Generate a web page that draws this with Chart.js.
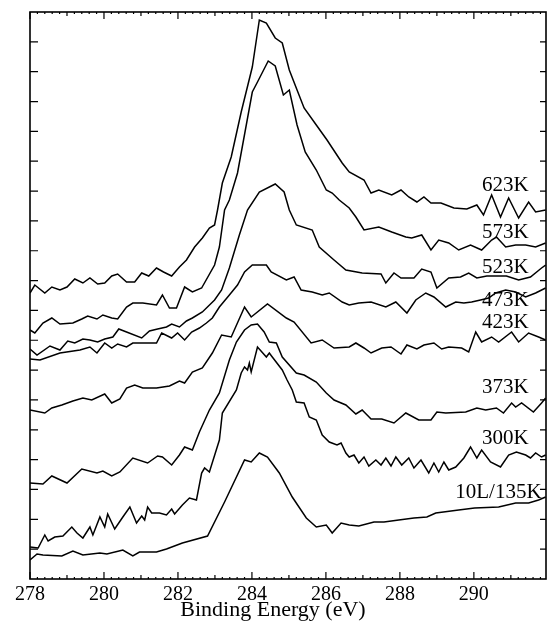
<!DOCTYPE html>
<html>
<head>
<meta charset="utf-8">
<script src="https://cdn.jsdelivr.net/npm/chart.js@4.4.1/dist/chart.umd.min.js"></script>
<style>
  html, body { margin: 0; padding: 0; background: #fff; }
</style>
</head>
<body>
<canvas id="xpsChart" width="550" height="627"></canvas>
<script>
// C 1s spectra, intensity in arbitrary units (curves are offset)
var e623 = [278.00, 278.13, 278.40, 278.59, 278.81, 279.00, 279.21, 279.43, 279.62, 279.83, 280.02, 280.21, 280.37, 280.61, 280.83, 281.02, 281.21, 281.42, 281.61, 281.83, 282.04, 282.23, 282.45, 282.66, 282.85, 282.99, 283.07, 283.20, 283.44, 283.71, 284.01, 284.20, 284.39, 284.63, 284.82, 285.01, 285.22, 285.41, 285.74, 286.03, 286.44, 286.63, 287.03, 287.22, 287.43, 287.78, 288.03, 288.24, 288.46, 288.65, 288.84, 289.11, 289.46, 289.81, 290.08, 290.26, 290.48, 290.72, 290.94, 291.21, 291.48, 291.67, 291.94];
var i623 = [286, 294, 286, 292, 289, 292, 300, 296, 301, 295, 296, 303, 305, 297, 297, 306, 303, 311, 307, 303, 312, 319, 332, 341, 351, 354, 369, 396, 422, 467, 512, 559, 556, 541, 536, 509, 489, 471, 454, 439, 416, 407, 399, 386, 389, 384, 389, 382, 377, 382, 376, 376, 371, 370, 374, 364, 384, 362, 381, 361, 377, 367, 369];

var e573 = [278.00, 278.13, 278.35, 278.59, 278.81, 279.16, 279.40, 279.56, 279.81, 279.97, 280.21, 280.37, 280.61, 280.78, 281.05, 281.42, 281.58, 281.77, 281.96, 282.18, 282.39, 282.64, 282.99, 283.12, 283.26, 283.39, 283.61, 284.01, 284.15, 284.44, 284.63, 284.85, 285.01, 285.22, 285.44, 285.74, 286.01, 286.17, 286.36, 286.63, 286.81, 287.03, 287.43, 287.78, 288.16, 288.32, 288.59, 288.84, 289.05, 289.32, 289.59, 289.91, 290.21, 290.48, 290.61, 290.86, 291.13, 291.40, 291.67, 291.94];
var i573 = [249, 246, 256, 261, 255, 256, 260, 263, 260, 264, 261, 260, 272, 276, 276, 274, 284, 271, 271, 292, 287, 291, 314, 332, 369, 379, 406, 487, 497, 518, 513, 484, 489, 454, 427, 409, 389, 386, 379, 371, 362, 349, 352, 347, 342, 341, 344, 329, 339, 336, 329, 334, 329, 339, 342, 332, 334, 334, 332, 336];

var e523 = [278.00, 278.19, 278.54, 278.81, 279.02, 279.21, 279.43, 279.62, 279.83, 280.02, 280.24, 280.40, 280.61, 281.02, 281.23, 281.45, 281.69, 281.83, 282.04, 282.23, 282.39, 282.66, 282.99, 283.18, 283.39, 283.66, 283.88, 284.20, 284.63, 284.87, 285.01, 285.20, 285.63, 285.82, 286.22, 286.54, 286.98, 287.49, 287.62, 287.84, 288.03, 288.38, 288.59, 288.84, 289.00, 289.32, 289.64, 289.86, 290.08, 290.35, 290.61, 290.88, 291.21, 291.53, 291.83, 291.94];
var i523 = [230, 224, 233, 229, 238, 236, 240, 239, 237, 240, 242, 250, 247, 241, 248, 250, 252, 255, 252, 258, 261, 267, 279, 289, 311, 344, 369, 387, 395, 387, 369, 354, 349, 332, 319, 309, 306, 305, 296, 306, 301, 301, 310, 307, 291, 301, 302, 306, 301, 303, 303, 303, 299, 302, 311, 314];

var e473 = [278.00, 278.27, 278.81, 279.35, 279.62, 279.81, 280.02, 280.21, 280.37, 280.61, 280.78, 281.05, 281.42, 281.56, 281.83, 281.99, 282.18, 282.37, 282.58, 282.77, 282.93, 283.12, 283.39, 283.61, 283.80, 284.01, 284.39, 284.52, 284.93, 285.14, 285.33, 285.63, 285.90, 286.09, 286.44, 286.63, 286.89, 287.22, 287.62, 287.89, 288.19, 288.43, 288.70, 288.92, 289.24, 289.51, 289.73, 289.94, 290.18, 290.40, 290.59, 290.86, 291.13, 291.40, 291.67, 291.94];
var i473 = [220, 219, 226, 229, 232, 226, 236, 231, 235, 232, 236, 236, 236, 246, 241, 246, 239, 247, 251, 256, 261, 272, 284, 294, 307, 314, 314, 307, 299, 302, 289, 287, 284, 286, 277, 274, 276, 277, 272, 277, 266, 279, 286, 282, 272, 277, 276, 277, 279, 281, 286, 289, 287, 282, 286, 291];

var e423 = [278.00, 278.40, 278.59, 278.86, 279.16, 279.43, 279.67, 280.02, 280.21, 280.43, 280.61, 280.83, 281.05, 281.42, 281.77, 282.04, 282.18, 282.39, 282.66, 282.93, 283.18, 283.44, 283.80, 283.98, 284.42, 284.93, 285.14, 285.60, 285.90, 286.22, 286.63, 286.81, 287.03, 287.22, 287.51, 287.76, 288.03, 288.19, 288.46, 288.65, 288.92, 289.13, 289.32, 289.67, 289.86, 290.05, 290.21, 290.48, 290.67, 291.02, 291.21, 291.48, 291.75, 291.94];
var i423 = [169, 166, 171, 174, 178, 181, 179, 185, 176, 180, 191, 194, 191, 191, 193, 198, 196, 207, 211, 226, 244, 242, 272, 262, 275, 261, 257, 236, 239, 231, 232, 236, 231, 226, 231, 232, 225, 234, 230, 234, 236, 230, 232, 231, 227, 247, 237, 242, 237, 247, 237, 246, 242, 239];

var e373 = [278.00, 278.35, 278.59, 279.00, 279.40, 279.81, 279.97, 280.21, 280.43, 280.78, 281.18, 281.45, 281.58, 281.83, 282.04, 282.18, 282.39, 282.58, 282.85, 283.12, 283.39, 283.58, 283.80, 283.98, 284.15, 284.33, 284.47, 284.66, 284.82, 285.20, 285.41, 285.74, 286.01, 286.22, 286.54, 286.81, 286.98, 287.22, 287.51, 287.84, 288.16, 288.51, 288.84, 289.00, 289.24, 289.78, 290.08, 290.32, 290.61, 290.80, 291.02, 291.13, 291.29, 291.61, 291.83, 291.94];
var i373 = [96, 95, 103, 96, 110, 106, 108, 103, 107, 121, 116, 123, 122, 114, 124, 132, 129, 147, 169, 186, 219, 237, 249, 254, 255, 247, 237, 236, 222, 206, 204, 197, 186, 179, 174, 165, 169, 160, 160, 156, 166, 159, 159, 167, 166, 167, 171, 169, 171, 166, 176, 172, 176, 167, 176, 181];

var e300 = [278.00, 278.22, 278.40, 278.49, 278.67, 278.89, 279.13, 279.27, 279.43, 279.62, 279.70, 279.89, 280.02, 280.10, 280.29, 280.51, 280.70, 280.88, 281.02, 281.10, 281.18, 281.29, 281.50, 281.69, 281.83, 281.91, 282.12, 282.31, 282.50, 282.64, 282.72, 282.85, 283.12, 283.20, 283.58, 283.71, 283.80, 283.88, 283.93, 283.98, 284.15, 284.39, 284.47, 284.55, 284.82, 284.95, 285.09, 285.20, 285.41, 285.55, 285.74, 285.90, 286.09, 286.30, 286.41, 286.54, 286.63, 286.76, 286.89, 287.03, 287.16, 287.35, 287.49, 287.62, 287.76, 287.89, 288.05, 288.24, 288.38, 288.57, 288.78, 288.92, 289.05, 289.19, 289.32, 289.51, 289.73, 289.91, 290.08, 290.21, 290.45, 290.72, 290.94, 291.15, 291.40, 291.53, 291.67, 291.83, 291.94];
var i300 = [32, 31, 44, 38, 42, 43, 52, 46, 41, 52, 44, 62, 52, 65, 50, 62, 72, 56, 63, 59, 72, 66, 66, 64, 70, 65, 74, 81, 79, 106, 111, 107, 139, 166, 189, 206, 212, 209, 216, 207, 232, 222, 226, 222, 209, 199, 189, 177, 176, 162, 159, 144, 137, 134, 136, 126, 122, 124, 116, 122, 113, 119, 114, 121, 113, 122, 114, 121, 111, 119, 106, 116, 107, 117, 109, 112, 121, 132, 121, 129, 117, 112, 124, 127, 124, 121, 126, 122, 124];

var e135 = [278.00, 278.19, 278.35, 278.86, 279.16, 279.43, 279.89, 280.08, 280.51, 280.78, 280.96, 281.42, 281.69, 282.12, 282.80, 283.26, 283.80, 283.98, 284.20, 284.42, 284.74, 285.09, 285.47, 285.74, 286.01, 286.17, 286.41, 286.63, 286.89, 287.30, 287.57, 287.97, 288.38, 288.73, 288.97, 289.59, 290.02, 290.67, 291.13, 291.48, 291.75, 291.94];
var i135 = [19, 25, 24, 23, 28, 24, 26, 25, 29, 23, 27, 27, 30, 36, 43, 77, 119, 117, 126, 122, 106, 82, 61, 52, 54, 46, 56, 54, 53, 57, 57, 59, 61, 62, 66, 69, 71, 72, 76, 76, 79, 82];

var seriesNames = ['623K', '573K', '523K', '473K', '423K', '373K', '300K', '10L/135K'];
var labelEnergy = [291.48, 291.48, 291.48, 291.48, 291.48, 291.48, 291.48, 291.83];
var labelLevel = [394, 347, 312, 279, 257, 192, 141, 87];
var xTitle = 'Binding Energy (eV)';

var xMin = 278, xMax = 291.95;
var yMax = 567, yDivisions = 19;
var serif = '"Liberation Serif", "Times New Roman", "DejaVu Serif", serif';

function toPoints(es, is) {
  return es.map(function (e, k) {
    return { x: e, y: is[k] };
  });
}

var spectra = [
  toPoints(e623, i623), toPoints(e573, i573), toPoints(e523, i523), toPoints(e473, i473),
  toPoints(e423, i423), toPoints(e373, i373), toPoints(e300, i300), toPoints(e135, i135)
];

// frame, inward tick marks, axis title and the temperature labels
var frameAndTicks = {
  id: 'frameAndTicks',
  afterDatasetsDraw: function (chart) {
    var ctx = chart.ctx;
    var a = chart.chartArea;
    var xs = chart.scales.x;
    var ys = chart.scales.y;
    ctx.save();
    ctx.strokeStyle = '#000';
    ctx.lineWidth = 1.2;
    ctx.beginPath();
    for (var k = 0; xMin + k * 0.2 <= xMax + 1e-6; k++) {
      var px = xs.getPixelForValue(xMin + k * 0.2);
      var len = k % 10 === 0 ? 7 : (k % 5 === 0 ? 4 : 2);
      ctx.moveTo(px, a.bottom);
      ctx.lineTo(px, a.bottom - len);
      ctx.moveTo(px, a.top);
      ctx.lineTo(px, a.top + len);
    }
    for (var j = 1; j < yDivisions; j++) {
      var py = ys.getPixelForValue(j * yMax / yDivisions);
      ctx.moveTo(a.left, py);
      ctx.lineTo(a.left + 8, py);
      ctx.moveTo(a.right, py);
      ctx.lineTo(a.right - 6, py);
    }
    ctx.stroke();
    ctx.lineWidth = 1.6;
    ctx.strokeRect(a.left, a.top, a.right - a.left, a.bottom - a.top);

    ctx.fillStyle = '#000';
    ctx.textBaseline = 'middle';
    ctx.textAlign = 'center';
    ctx.font = '22px ' + serif;
    ctx.fillText(xTitle, (a.left + a.right) / 2 - 15, xs.bottom - 17);

    ctx.font = '21px ' + serif;
    ctx.textAlign = 'right';
    seriesNames.forEach(function (name, n) {
      ctx.fillText(name, xs.getPixelForValue(labelEnergy[n]), ys.getPixelForValue(labelLevel[n]));
    });
    ctx.restore();
  }
};

new Chart(document.getElementById('xpsChart').getContext('2d'), {
  type: 'line',
  data: {
    datasets: spectra.map(function (pts, n) {
      return {
        label: seriesNames[n],
        data: pts,
        borderColor: '#000',
        borderWidth: 1.5,
        pointRadius: 0,
        tension: 0,
        fill: false
      };
    })
  },
  options: {
    responsive: false,
    animation: false,
    layout: { padding: { left: 30, right: 2, top: 12, bottom: 0 } },
    plugins: {
      legend: { display: false },
      tooltip: { enabled: false }
    },
    scales: {
      x: {
        type: 'linear',
        min: xMin,
        max: xMax,
        grid: { display: false, drawTicks: false },
        border: { display: false },
        afterFit: function (scale) { scale.height = 48; },
        ticks: {
          stepSize: 1,
          autoSkip: false,
          maxRotation: 0,
          padding: 4,
          color: '#000',
          font: { family: serif, size: 20 },
          callback: function (v) {
            var r = Math.round(v);
            return Math.abs(v - r) < 1e-6 && r % 2 === 0 ? String(r) : '';
          }
        },
        title: { display: false }
      },
      y: {
        min: 0,
        max: yMax,
        display: false
      }
    }
  },
  plugins: [frameAndTicks]
});
</script>
</body>
</html>
